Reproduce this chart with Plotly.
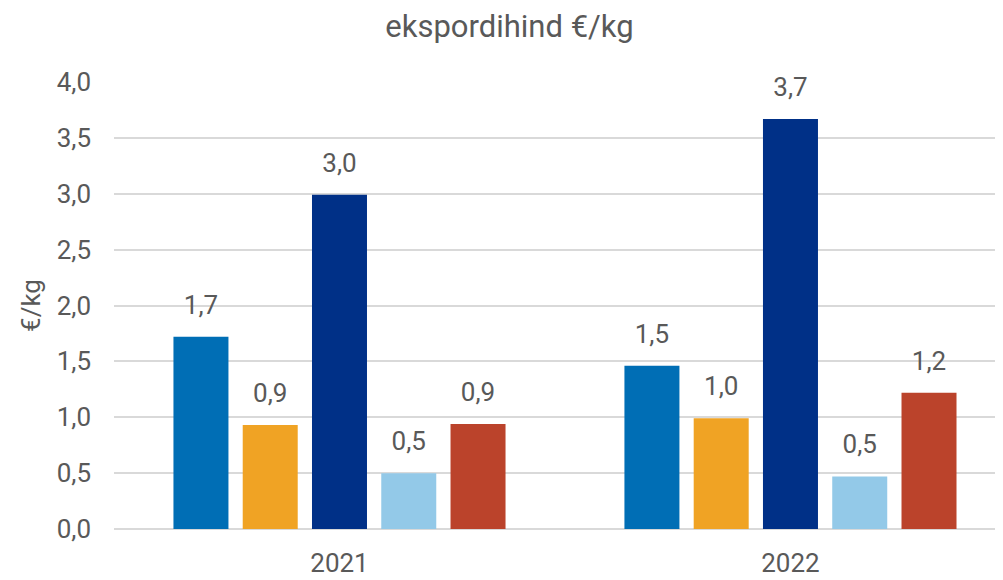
import plotly.graph_objects as go

categories = ["2021", "2022"]
series_names = ["A", "B", "C", "D", "E"]
series_values = [
    [1.72, 1.46],
    [0.93, 0.99],
    [2.99, 3.67],
    [0.50, 0.47],
    [0.94, 1.22],
]
colors = ["#006EB5", "#F0A324", "#003087", "#93C9E8", "#BB432B"]
y_ticks = [0, 0.5, 1.0, 1.5, 2.0, 2.5, 3.0, 3.5, 4.0]

TXT = "#595959"
FONT = "Roboto"

fig = go.Figure()
for name, vals, col in zip(series_names, series_values, colors):
    fig.add_trace(go.Bar(
        x=categories, y=vals, name=name,
        marker=dict(color=col, line=dict(width=0)),
        hoverinfo="skip",
    ))
for name, vals in zip(series_names, series_values):
    fig.add_trace(go.Scatter(
        x=categories, y=vals, name=name + " label",
        mode="markers+text",
        marker=dict(size=25, opacity=0),
        text=[f"{v:.1f}".replace(".", ",") for v in vals],
        textposition="top center",
        textfont=dict(family=FONT, size=26, color=TXT),
        cliponaxis=False,
        hoverinfo="skip",
    ))

fig.update_layout(
    width=1003, height=580,
    paper_bgcolor="white", plot_bgcolor="white",
    separators=", ",
    showlegend=False,
    barmode="group", bargap=0.232, bargroupgap=0.206,
    scattermode="group", scattergap=0.232,
    margin=dict(l=106, r=0, t=74, b=59),
    title=dict(text="ekspordihind €/kg", x=0.5, xanchor="center", y=0.968, yanchor="middle",
               font=dict(family=FONT, size=31, color=TXT)),
    font=dict(family=FONT, color=TXT),
)
fig.update_xaxes(
    type="category", range=[-0.5, 1.489],
    showgrid=False, showline=False, ticks="",
    ticklabelstandoff=16,
    tickfont=dict(family=FONT, size=26, color=TXT),
)
fig.update_yaxes(
    range=[0, 4.0], tickvals=y_ticks, tickformat=".1f",
    showgrid=True, gridcolor="#D9D9D9", gridwidth=1.5,
    zeroline=True, zerolinecolor="#D9D9D9", zerolinewidth=1.5,
    showline=False, ticks="", ticklabelstandoff=22,
    tickfont=dict(family=FONT, size=26, color=TXT),
    title=dict(text="€/kg", font=dict(family=FONT, size=26, color=TXT), standoff=8),
)

fig.write_html("out.html")
